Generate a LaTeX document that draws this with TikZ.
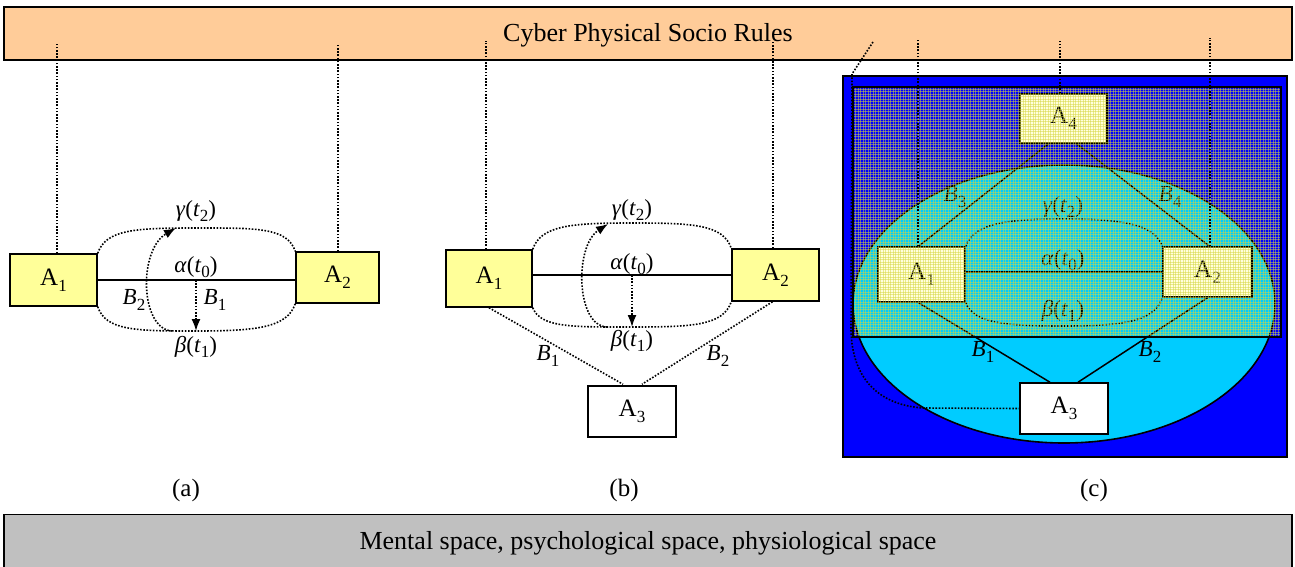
\documentclass[tikz,border=0pt]{standalone}
\usepackage{fontspec}
\setmainfont{Liberation Serif}
\usetikzlibrary{arrows.meta,calc}
\definecolor{rulebar}{HTML}{FFCC99}
\definecolor{mindbar}{HTML}{C0C0C0}
\definecolor{agentfill}{HTML}{FFFF99}
\definecolor{agentpale}{HTML}{FFFFDD}
\definecolor{deepblue}{HTML}{0000FF}
\definecolor{skycyan}{HTML}{00CCFF}
\definecolor{meshcol}{RGB}{215,215,60}
% lowered index digit
\newcommand\lo[1]{\raisebox{-0.25em}{\fontsize{17}{17}\selectfont #1}}
% time-stamped relation label, e.g. alpha(t0)
\newcommand\tl[2]{\textit{#1}(\textit{t}\lo{#2})}
\newcommand\bl[1]{\textit{B}\lo{#1}}
\begin{document}
\begin{tikzpicture}[x=1pt,y=-1pt,
  bar/.style={draw, line width=1.8, minimum width=1288, minimum height=53, inner sep=0,
              text height=17, text depth=0, font=\fontsize{26}{29}\selectfont},
  agent/.style={draw, line width=1.5, fill=agentfill, inner sep=0,
                font=\fontsize{25}{28}\selectfont},
  lbl/.style={inner sep=0, font=\fontsize{23}{25}\selectfont},
  panelcap/.style={inner sep=0, font=\fontsize{25}{28}\selectfont},
  dots/.style={line width=1.6, dash pattern=on 1.6pt off 1.6pt},
  link/.style={line width=1.5},
  tip/.style={-{Latex[length=12,width=9]}},
  gridln/.style={line width=1, draw=meshcol, opacity=0.5}]
\useasboundingbox (0,0) rectangle (1295,567);

% ---------- top and bottom bands ----------
\node[bar, fill=rulebar] (rules) at (648,33.5) {Cyber Physical Socio Rules};
\node[bar, fill=mindbar] (mind) at (648,541) {Mental space, psychological space, physiological space};

% ---------- panel (a) ----------
\node[agent, minimum width=87, minimum height=52] (a1a) at (53.5,280) {A\lo{1}};
\node[agent, minimum width=83, minimum height=51] (a2a) at (337.5,277.5) {A\lo{2}};
\coordinate (ga) at (196,228);
\coordinate (ba) at (196,331);
\coordinate (ia) at (172,331);
\coordinate (ta) at (176,228);
\draw[link] (a1a.east) -- (a1a.east -| a2a.west);
\draw[dots] (a1a.north east) .. controls +(8,-24) and +(-60,0) .. (ga)
            .. controls +(60,0) and +(-8,-24) .. (a2a.north west);
\draw[dots] (a1a.south east) .. controls +(8,24) and +(-60,0) .. (ba)
            .. controls +(60,0) and +(-8,24) .. (a2a.south west);
\draw[dots,tip] (ia) .. controls (140,329) and (138,250) .. (ta);
\draw[dots,tip] (ba |- a1a.east) -- (ba);
\node[lbl] (gla) at (196,211) {\tl{γ}{2}};
\node[lbl] (ala) at (196,267) {\tl{α}{0}};
\node[lbl] (bla) at (196,347) {\tl{β}{1}};
\node[lbl] (b1a) at (215,300) {\bl{1}};
\node[lbl] (b2a) at (134,300) {\bl{2}};
\node[panelcap] (capa) at (186,490) {(a)};

% ---------- panel (b) ----------
\node[agent, minimum width=86, minimum height=57] (a1b) at (489,278.5) {A\lo{1}};
\node[agent, minimum width=87, minimum height=52] (a2b) at (775.5,275) {A\lo{2}};
\node[agent, fill=white, minimum width=88, minimum height=51] (a3b) at (632,411.5) {A\lo{3}};
\coordinate (gb) at (632,223);
\coordinate (bb) at (632,327);
\coordinate (ib) at (607,327);
\coordinate (tb) at (608,224);
\draw[link] (a1b.east |- a2b) -- (a2b.west);
\draw[dots] (a1b.north east) .. controls +(8,-24) and +(-60,0) .. (gb)
            .. controls +(60,0) and +(-8,-24) .. (a2b.north west);
\draw[dots] (a1b.south east) .. controls +(8,20) and +(-60,0) .. (bb)
            .. controls +(60,0) and +(-8,24) .. (a2b.south west);
\draw[dots,tip] (ib) .. controls (576,326) and (574,246) .. (tb);
\draw[dots,tip] (bb |- a2b) -- (bb);
\draw[dots] (a1b.south) -- ($(a3b.north)+(-9,-1)$);
\draw[dots] ($(a2b.south)+(-3,0)$) -- ($(a3b.north)+(10,-1)$);
\node[lbl] (glb) at (632,210) {\tl{γ}{2}};
\node[lbl] (alb) at (632,264) {\tl{α}{0}};
\node[lbl] (blb) at (632,341) {\tl{β}{1}};
\node[lbl] (b1b) at (548,356) {\bl{1}};
\node[lbl] (b2b) at (718,356) {\bl{2}};
\node[panelcap] (capb) at (624,490) {(b)};

% ---------- panel (c) ----------
\draw[line width=1.8, fill=deepblue] (843,76) rectangle (1287,457);
\draw[line width=1.6, fill=skycyan] (1064,304) ellipse [x radius=211pt, y radius=139pt];
\node[agent, fill=agentpale, minimum width=87, minimum height=49] (a4c) at (1063.5,118.5) {A\lo{4}};
\node[agent, fill=agentpale, minimum width=87, minimum height=55] (a1c) at (921.5,274.5) {A\lo{1}};
\node[agent, fill=agentpale, minimum width=89, minimum height=50] (a2c) at (1207.5,272) {A\lo{2}};
\node[agent, fill=white, minimum width=88, minimum height=51] (a3c) at (1064,408.5) {A\lo{3}};
\coordinate (gc) at (1063,219);
\coordinate (bc) at (1063,326);
\draw[link] ($(a4c.south)+(-15,0)$) -- ($(a1c.north)+(-3,0)$);
\draw[link] ($(a4c.south)+(13,0)$) -- ($(a2c.north)+(2,0)$);
\draw[link] ($(a1c.south)+(-3,0)$) -- ($(a3c.north)+(-14,0)$);
\draw[link] ($(a2c.south)+(0,0)$) -- ($(a3c.north)+(14,0)$);
\draw[link] (a1c.east |- a2c) -- (a2c.west);
\draw[dots] (a1c.north east) .. controls +(8,-22) and +(-60,0) .. (gc)
            .. controls +(60,0) and +(-8,-22) .. (a2c.north west);
\draw[dots] (a1c.south east) .. controls +(8,20) and +(-60,0) .. (bc)
            .. controls +(60,0) and +(-8,24) .. (a2c.south west);
\node[lbl] (glc) at (1063,207) {\tl{γ}{2}};
\node[lbl] (alc) at (1063,260) {\tl{α}{0}};
\node[lbl] (blc) at (1063,311) {\tl{β}{1}};
\node[lbl] (b3c) at (955,197) {\bl{3}};
\node[lbl] (b4c) at (1170,197) {\bl{4}};
\node[lbl] (b1c) at (983,352) {\bl{1}};
\node[lbl] (b2c) at (1150,352) {\bl{2}};
% meshed overlay region
\begin{scope}
  \clip (853,87) rectangle (1281,337);
  \foreach \x in {853,855.5,...,1281} \draw[gridln] (\x,87) -- (\x,337);
  \foreach \y in {87,89.5,...,337} \draw[gridln] (853,\y) -- (1281,\y);
\end{scope}
\draw[line width=1.8] (853,87) rectangle (1281,337);
\node[panelcap] (capc) at (1094,490) {(c)};

% ---------- links up to the rules band ----------
\coordinate (r1) at (57,44);
\coordinate (r2) at (338,44);
\coordinate (r3) at (486,41);
\coordinate (r4) at (773,41);
\coordinate (r5) at (918,40);
\coordinate (r6) at (1060,41);
\coordinate (r7) at (1210,38);
\coordinate (r8) at (873,42);
\draw[dots] (a1a.north -| r1) -- (r1);
\draw[dots] (a2a.north -| r2) -- (r2);
\draw[dots] (a1b.north -| r3) -- (r3);
\draw[dots] (a2b.north -| r4) -- (r4);
\draw[dots] (a1c.north -| r5) -- (r5);
\draw[dots] (a4c.north -| r6) -- (r6);
\draw[dots] (a2c.north -| r7) -- (r7);
\draw[dots] (r8) -- (852,74) -- (851,330) .. controls (852,380) and (880,405) .. (923,408)
            -- (a3c.west);
\end{tikzpicture}
\end{document}
